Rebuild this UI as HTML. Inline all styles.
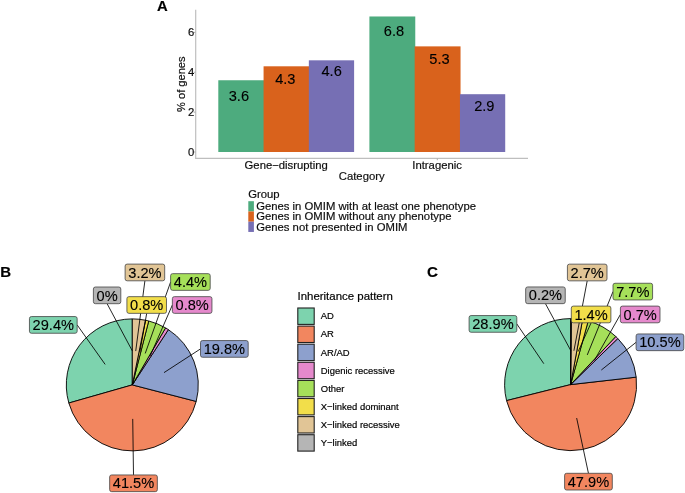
<!DOCTYPE html>
<html><head><meta charset="utf-8"><style>
html,body{margin:0;padding:0;background:#fff;}
svg{display:block;font-family:"Liberation Sans", sans-serif;will-change:transform;}
text{stroke:#000;stroke-width:0.18px;}
text.pl{stroke-width:0.12px;}
</style></head><body>
<svg width="685" height="493" viewBox="0 0 685 493">
<rect width="685" height="493" fill="#fff"/>
<text x="156.90" y="11.30" font-size="14.8" text-anchor="start" font-weight="bold" fill="#000" >A</text>
<rect x="218.30" y="80.25" width="45.87" height="71.75" fill="#4DAB7E"/>
<rect x="263.57" y="66.30" width="45.87" height="85.70" fill="#D9621C"/>
<rect x="308.84" y="60.32" width="45.27" height="91.68" fill="#766FB4"/>
<rect x="369.40" y="16.48" width="45.87" height="135.52" fill="#4DAB7E"/>
<rect x="414.67" y="46.37" width="45.87" height="105.63" fill="#D9621C"/>
<rect x="459.94" y="94.20" width="45.27" height="57.80" fill="#766FB4"/>
<text x="238.90" y="100.80" font-size="14.6" text-anchor="middle" font-weight="normal" fill="#000" class="pl">3.6</text>
<text x="285.35" y="83.90" font-size="14.6" text-anchor="middle" font-weight="normal" fill="#000" class="pl">4.3</text>
<text x="331.65" y="75.90" font-size="14.6" text-anchor="middle" font-weight="normal" fill="#000" class="pl">4.6</text>
<text x="393.95" y="35.80" font-size="14.6" text-anchor="middle" font-weight="normal" fill="#000" class="pl">6.8</text>
<text x="439.50" y="63.70" font-size="14.6" text-anchor="middle" font-weight="normal" fill="#000" class="pl">5.3</text>
<text x="484.30" y="110.50" font-size="14.6" text-anchor="middle" font-weight="normal" fill="#000" class="pl">2.9</text>
<line x1="195.7" y1="9.8" x2="195.7" y2="158.4" stroke="#BEBEBE" stroke-width="1.2"/>
<line x1="195.1" y1="158.4" x2="528" y2="158.4" stroke="#BEBEBE" stroke-width="1.2"/>
<line x1="193.6" y1="152.00" x2="195.2" y2="152.00" stroke="#888" stroke-width="0.7"/>
<text x="194.30" y="155.70" font-size="11.3" text-anchor="end" font-weight="normal" fill="#111" >0</text>
<line x1="193.6" y1="112.14" x2="195.2" y2="112.14" stroke="#888" stroke-width="0.7"/>
<text x="194.30" y="115.84" font-size="11.3" text-anchor="end" font-weight="normal" fill="#111" >2</text>
<line x1="193.6" y1="72.28" x2="195.2" y2="72.28" stroke="#888" stroke-width="0.7"/>
<text x="194.30" y="75.98" font-size="11.3" text-anchor="end" font-weight="normal" fill="#111" >4</text>
<line x1="193.6" y1="32.42" x2="195.2" y2="32.42" stroke="#888" stroke-width="0.7"/>
<text x="194.30" y="36.12" font-size="11.3" text-anchor="end" font-weight="normal" fill="#111" >6</text>
<line x1="286.2" y1="158.8" x2="286.2" y2="160.2" stroke="#888" stroke-width="0.7"/>
<line x1="437.3" y1="158.8" x2="437.3" y2="160.2" stroke="#888" stroke-width="0.7"/>
<text x="286.20" y="168.80" font-size="11.3" text-anchor="middle" font-weight="normal" fill="#111" >Gene−disrupting</text>
<text x="437.10" y="168.80" font-size="11.3" text-anchor="middle" font-weight="normal" fill="#111" >Intragenic</text>
<text x="361.70" y="179.80" font-size="11.3" text-anchor="middle" font-weight="normal" fill="#111" >Category</text>
<text transform="translate(185.4,84.2) rotate(-90)" font-size="11.1" text-anchor="middle" fill="#111">% of genes</text>
<text x="248.20" y="197.90" font-size="11.3" text-anchor="start" font-weight="normal" fill="#111" >Group</text>
<rect x="248.3" y="201.20" width="5.6" height="10.25" fill="#4DAB7E"/>
<text x="256.20" y="210.00" font-size="11.3" text-anchor="start" font-weight="normal" fill="#111" >Genes in OMIM with at least one phenotype</text>
<rect x="248.3" y="211.45" width="5.6" height="10.25" fill="#D9621C"/>
<text x="256.20" y="220.25" font-size="11.3" text-anchor="start" font-weight="normal" fill="#111" >Genes in OMIM without any phenotype</text>
<rect x="248.3" y="221.70" width="5.6" height="10.25" fill="#766FB4"/>
<text x="256.20" y="230.50" font-size="11.3" text-anchor="start" font-weight="normal" fill="#111" >Genes not presented in OMIM</text>
<text x="0.30" y="276.90" font-size="15.0" text-anchor="start" font-weight="bold" fill="#000" >B</text>
<text x="427.10" y="276.90" font-size="15.2" text-anchor="start" font-weight="bold" fill="#000" >C</text>
<path d="M132.30,384.90 L132.30,318.90 A66,66 0 0 0 68.84,403.03 Z" fill="#7DD3AE" stroke="#000" stroke-width="0.9" stroke-linejoin="round"/>
<path d="M132.30,384.90 L68.84,403.03 A66,66 0 0 0 196.20,401.43 Z" fill="#F2865F" stroke="#000" stroke-width="0.9" stroke-linejoin="round"/>
<path d="M132.30,384.90 L196.20,401.43 A66,66 0 0 0 168.39,329.64 Z" fill="#8DA0CD" stroke="#000" stroke-width="0.9" stroke-linejoin="round"/>
<path d="M132.30,384.90 L168.39,329.64 A66,66 0 0 0 165.57,327.90 Z" fill="#E589CC" stroke="#000" stroke-width="0.9" stroke-linejoin="round"/>
<path d="M132.30,384.90 L165.57,327.90 A66,66 0 0 0 148.73,320.98 Z" fill="#A6E05A" stroke="#000" stroke-width="0.9" stroke-linejoin="round"/>
<path d="M132.30,384.90 L148.73,320.98 A66,66 0 0 0 145.49,320.23 Z" fill="#F2DE4A" stroke="#000" stroke-width="0.9" stroke-linejoin="round"/>
<path d="M132.30,384.90 L145.49,320.23 A66,66 0 0 0 132.30,318.90 Z" fill="#E1C596" stroke="#000" stroke-width="0.9" stroke-linejoin="round"/>
<line x1="105.16" y1="364.43" x2="77.15" y2="324.90" stroke="#000" stroke-width="0.85"/>
<line x1="132.73" y1="418.90" x2="133.50" y2="474.95" stroke="#000" stroke-width="0.85"/>
<line x1="164.01" y1="372.62" x2="200.50" y2="348.90" stroke="#000" stroke-width="0.85"/>
<line x1="150.17" y1="355.98" x2="172.36" y2="305.00" stroke="#000" stroke-width="0.85"/>
<line x1="145.22" y1="353.45" x2="170.61" y2="282.00" stroke="#000" stroke-width="0.85"/>
<line x1="139.93" y1="351.77" x2="146.70" y2="313.35" stroke="#000" stroke-width="0.85"/>
<line x1="135.72" y1="351.07" x2="144.90" y2="280.80" stroke="#000" stroke-width="0.85"/>
<line x1="132.30" y1="350.90" x2="107.10" y2="303.70" stroke="#000" stroke-width="0.85"/>
<rect x="29.45" y="316.55" width="47.70" height="16.70" rx="2" ry="2" fill="#7DD3AE" stroke="#444" stroke-width="0.8"/>
<text x="53.30" y="330.05" font-size="14.6" text-anchor="middle" font-weight="normal" fill="#000" class="pl">29.4%</text>
<rect x="109.65" y="474.95" width="47.70" height="16.70" rx="2" ry="2" fill="#F2865F" stroke="#444" stroke-width="0.8"/>
<text x="133.50" y="488.45" font-size="14.6" text-anchor="middle" font-weight="normal" fill="#000" class="pl">41.5%</text>
<rect x="200.50" y="340.55" width="47.70" height="16.70" rx="2" ry="2" fill="#8DA0CD" stroke="#444" stroke-width="0.8"/>
<text x="224.35" y="354.05" font-size="14.6" text-anchor="middle" font-weight="normal" fill="#000" class="pl">19.8%</text>
<rect x="172.36" y="296.65" width="39.58" height="16.70" rx="2" ry="2" fill="#E589CC" stroke="#444" stroke-width="0.8"/>
<text x="192.15" y="310.15" font-size="14.6" text-anchor="middle" font-weight="normal" fill="#000" class="pl">0.8%</text>
<rect x="170.61" y="273.65" width="39.58" height="16.70" rx="2" ry="2" fill="#A6E05A" stroke="#444" stroke-width="0.8"/>
<text x="190.40" y="287.15" font-size="14.6" text-anchor="middle" font-weight="normal" fill="#000" class="pl">4.4%</text>
<rect x="126.91" y="296.65" width="39.58" height="16.70" rx="2" ry="2" fill="#F2DE4A" stroke="#444" stroke-width="0.8"/>
<text x="146.70" y="310.15" font-size="14.6" text-anchor="middle" font-weight="normal" fill="#000" class="pl">0.8%</text>
<rect x="125.11" y="264.10" width="39.58" height="16.70" rx="2" ry="2" fill="#E1C596" stroke="#444" stroke-width="0.8"/>
<text x="144.90" y="277.60" font-size="14.6" text-anchor="middle" font-weight="normal" fill="#000" class="pl">3.2%</text>
<rect x="93.40" y="287.00" width="27.40" height="16.70" rx="2" ry="2" fill="#B5B5B5" stroke="#444" stroke-width="0.8"/>
<text x="107.10" y="300.50" font-size="14.6" text-anchor="middle" font-weight="normal" fill="#000" class="pl">0%</text>
<path d="M570.60,384.60 L570.60,318.60 A66,66 0 0 0 506.57,400.61 Z" fill="#7DD3AE" stroke="#000" stroke-width="0.9" stroke-linejoin="round"/>
<path d="M570.60,384.60 L506.57,400.61 A66,66 0 0 0 636.18,377.15 Z" fill="#F2865F" stroke="#000" stroke-width="0.9" stroke-linejoin="round"/>
<path d="M570.60,384.60 L636.18,377.15 A66,66 0 0 0 617.85,338.52 Z" fill="#8DA0CD" stroke="#000" stroke-width="0.9" stroke-linejoin="round"/>
<path d="M570.60,384.60 L617.85,338.52 A66,66 0 0 0 615.78,336.49 Z" fill="#E589CC" stroke="#000" stroke-width="0.9" stroke-linejoin="round"/>
<path d="M570.60,384.60 L615.78,336.49 A66,66 0 0 0 588.22,320.99 Z" fill="#A6E05A" stroke="#000" stroke-width="0.9" stroke-linejoin="round"/>
<path d="M570.60,384.60 L588.22,320.99 A66,66 0 0 0 582.56,319.69 Z" fill="#F2DE4A" stroke="#000" stroke-width="0.9" stroke-linejoin="round"/>
<path d="M570.60,384.60 L582.56,319.69 A66,66 0 0 0 571.43,318.61 Z" fill="#E1C596" stroke="#000" stroke-width="0.9" stroke-linejoin="round"/>
<path d="M570.60,384.60 L571.43,318.61 A66,66 0 0 0 570.60,318.60 Z" fill="#B5B5B5" stroke="#000" stroke-width="0.9" stroke-linejoin="round"/>
<line x1="543.80" y1="363.68" x2="516.80" y2="323.90" stroke="#000" stroke-width="0.85"/>
<line x1="576.66" y1="418.06" x2="588.45" y2="473.30" stroke="#000" stroke-width="0.85"/>
<line x1="601.32" y1="370.03" x2="636.10" y2="342.30" stroke="#000" stroke-width="0.85"/>
<line x1="594.41" y1="360.33" x2="620.41" y2="314.45" stroke="#000" stroke-width="0.85"/>
<line x1="587.26" y1="354.96" x2="613.01" y2="291.60" stroke="#000" stroke-width="0.85"/>
<line x1="578.23" y1="351.47" x2="591.10" y2="322.80" stroke="#000" stroke-width="0.85"/>
<line x1="573.91" y1="350.76" x2="587.20" y2="280.85" stroke="#000" stroke-width="0.85"/>
<line x1="570.81" y1="350.60" x2="545.45" y2="303.65" stroke="#000" stroke-width="0.85"/>
<rect x="469.10" y="315.55" width="47.70" height="16.70" rx="2" ry="2" fill="#7DD3AE" stroke="#444" stroke-width="0.8"/>
<text x="492.95" y="329.05" font-size="14.6" text-anchor="middle" font-weight="normal" fill="#000" class="pl">28.9%</text>
<rect x="564.60" y="473.30" width="47.70" height="16.70" rx="2" ry="2" fill="#F2865F" stroke="#444" stroke-width="0.8"/>
<text x="588.45" y="486.80" font-size="14.6" text-anchor="middle" font-weight="normal" fill="#000" class="pl">47.9%</text>
<rect x="636.10" y="333.95" width="47.70" height="16.70" rx="2" ry="2" fill="#8DA0CD" stroke="#444" stroke-width="0.8"/>
<text x="659.95" y="347.45" font-size="14.6" text-anchor="middle" font-weight="normal" fill="#000" class="pl">10.5%</text>
<rect x="620.41" y="306.10" width="39.58" height="16.70" rx="2" ry="2" fill="#E589CC" stroke="#444" stroke-width="0.8"/>
<text x="640.20" y="319.60" font-size="14.6" text-anchor="middle" font-weight="normal" fill="#000" class="pl">0.7%</text>
<rect x="613.01" y="283.25" width="39.58" height="16.70" rx="2" ry="2" fill="#A6E05A" stroke="#444" stroke-width="0.8"/>
<text x="632.80" y="296.75" font-size="14.6" text-anchor="middle" font-weight="normal" fill="#000" class="pl">7.7%</text>
<rect x="571.31" y="306.10" width="39.58" height="16.70" rx="2" ry="2" fill="#F2DE4A" stroke="#444" stroke-width="0.8"/>
<text x="591.10" y="319.60" font-size="14.6" text-anchor="middle" font-weight="normal" fill="#000" class="pl">1.4%</text>
<rect x="567.41" y="264.15" width="39.58" height="16.70" rx="2" ry="2" fill="#E1C596" stroke="#444" stroke-width="0.8"/>
<text x="587.20" y="277.65" font-size="14.6" text-anchor="middle" font-weight="normal" fill="#000" class="pl">2.7%</text>
<rect x="525.66" y="286.95" width="39.58" height="16.70" rx="2" ry="2" fill="#B5B5B5" stroke="#444" stroke-width="0.8"/>
<text x="545.45" y="300.45" font-size="14.6" text-anchor="middle" font-weight="normal" fill="#000" class="pl">0.2%</text>
<text x="297.50" y="300.00" font-size="11.45" text-anchor="start" font-weight="normal" fill="#000" >Inheritance pattern</text>
<rect x="297.8" y="308.00" width="16.4" height="16.4" fill="#7DD3AE" stroke="#222" stroke-width="1.1"/>
<text x="320.80" y="319.30" font-size="9.45" text-anchor="start" font-weight="normal" fill="#000" >AD</text>
<rect x="297.8" y="326.10" width="16.4" height="16.4" fill="#F2865F" stroke="#222" stroke-width="1.1"/>
<text x="320.80" y="337.40" font-size="9.45" text-anchor="start" font-weight="normal" fill="#000" >AR</text>
<rect x="297.8" y="344.20" width="16.4" height="16.4" fill="#8DA0CD" stroke="#222" stroke-width="1.1"/>
<text x="320.80" y="355.50" font-size="9.45" text-anchor="start" font-weight="normal" fill="#000" >AR/AD</text>
<rect x="297.8" y="362.30" width="16.4" height="16.4" fill="#E589CC" stroke="#222" stroke-width="1.1"/>
<text x="320.80" y="373.60" font-size="9.45" text-anchor="start" font-weight="normal" fill="#000" >Digenic recessive</text>
<rect x="297.8" y="380.40" width="16.4" height="16.4" fill="#A6E05A" stroke="#222" stroke-width="1.1"/>
<text x="320.80" y="391.70" font-size="9.45" text-anchor="start" font-weight="normal" fill="#000" >Other</text>
<rect x="297.8" y="398.50" width="16.4" height="16.4" fill="#F2DE4A" stroke="#222" stroke-width="1.1"/>
<text x="320.80" y="409.80" font-size="9.45" text-anchor="start" font-weight="normal" fill="#000" >X−linked dominant</text>
<rect x="297.8" y="416.60" width="16.4" height="16.4" fill="#E1C596" stroke="#222" stroke-width="1.1"/>
<text x="320.80" y="427.90" font-size="9.45" text-anchor="start" font-weight="normal" fill="#000" >X−linked recessive</text>
<rect x="297.8" y="434.70" width="16.4" height="16.4" fill="#B5B5B5" stroke="#222" stroke-width="1.1"/>
<text x="320.80" y="446.00" font-size="9.45" text-anchor="start" font-weight="normal" fill="#000" >Y−linked</text>
</svg>
</body></html>
